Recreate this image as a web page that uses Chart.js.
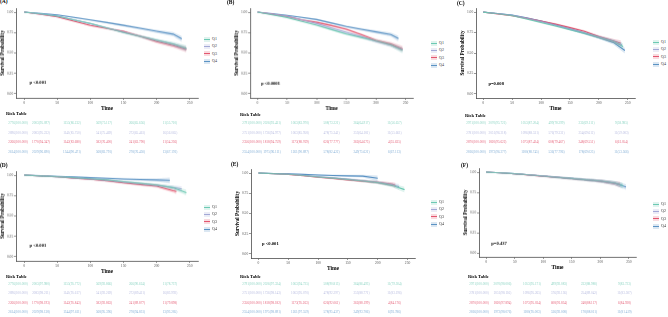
<!DOCTYPE html>
<html><head><meta charset="utf-8">
<script src="https://cdn.jsdelivr.net/npm/chart.js@4.4.1/dist/chart.umd.min.js"></script>
<style>
html,body{margin:0;padding:0;background:#fff;width:668px;height:317px;overflow:hidden;position:relative;font-family:"Liberation Serif",serif;}
canvas{position:absolute;}
.plab{position:absolute;font-weight:bold;font-size:5.5px;line-height:1;color:#000;white-space:nowrap;}
.rtt{position:absolute;font-weight:bold;font-size:4.6px;line-height:1;color:#000;white-space:nowrap;}
.rt{position:absolute;white-space:nowrap;font-size:3.3px;line-height:1;transform:translate(-50%,-50%);}
.lg{position:absolute;font-size:4px;line-height:1;color:#333;white-space:nowrap;}
.key{position:absolute;width:6px;height:5px;}
.key i{position:absolute;left:0;right:0;top:2px;height:1px;}
</style></head><body>
<script>
// ---------- DATA ----------
const groups = ["Q1","Q2","Q3","Q4"];
const grid = [0,25,50,75,100,125,150,175,200,225];
const xTicks = [0,50,100,150,200,250];
const yTicks = [0,0.25,0.5,0.75,1];
const ciHalf = [0,0.004,0.006,0.008,0.010,0.012,0.014,0.017,0.020,0.025];
const ciEnd = 0.035;

const A_Q1 = [1,0.978,0.951,0.905,0.862,0.806,0.751,0.703,0.657,0.610];
const A_Q2 = [1,0.977,0.952,0.905,0.858,0.806,0.755,0.705,0.654,0.605];
const A_Q3 = [1,0.972,0.943,0.890,0.837,0.800,0.764,0.705,0.638,0.590];
const A_Q4 = [1,0.983,0.967,0.936,0.905,0.872,0.838,0.802,0.765,0.730];
const A_end = [[245,0.557],[245,0.550],[245,0.542],[238,0.672]];

const B_Q1 = [1,0.967,0.934,0.887,0.840,0.786,0.732,0.690,0.649,0.600];
const B_Q2 = [1,0.975,0.950,0.905,0.860,0.807,0.753,0.700,0.642,0.595];
const B_Q3 = [1,0.974,0.948,0.905,0.875,0.835,0.790,0.725,0.655,0.610];
const B_Q4 = [1,0.980,0.961,0.935,0.909,0.866,0.824,0.790,0.758,0.725];
const B_end = [[245,0.530],[245,0.540],[245,0.550],[238,0.675]];

const C_Q1 = [1,0.980,0.957,0.915,0.872,0.830,0.785,0.740,0.690,0.640];
const C_Q2 = [1,0.982,0.962,0.925,0.885,0.840,0.795,0.745,0.695,0.645];
const C_Q3 = [1,0.978,0.955,0.925,0.890,0.855,0.810,0.765,0.700,0.650];
const C_Q4 = [1,0.982,0.965,0.930,0.890,0.845,0.795,0.745,0.690,0.630];
const C_end = [[242,0.580],[240,0.600],[238,0.620],[245,0.530]];

const D_Q1 = [1,0.990,0.980,0.968,0.955,0.940,0.920,0.900,0.880,0.845];
const D_Q2 = [1,0.990,0.978,0.965,0.952,0.935,0.915,0.895,0.875,0.850];
const D_Q3 = [1,0.990,0.978,0.962,0.948,0.930,0.905,0.885,0.865,0.810];
const D_Q4 = [1,0.993,0.985,0.977,0.968,0.960,0.952,0.945,0.940];
const D_end = [[245,0.785],[238,0.830],[230,0.800],[220,0.935]];

const E_Q1 = [1,0.993,0.985,0.970,0.952,0.937,0.920,0.902,0.882,0.845];
const E_Q2 = [1,0.993,0.986,0.972,0.955,0.940,0.925,0.905,0.885,0.855];
const E_Q3 = [1,0.992,0.983,0.967,0.948,0.932,0.915,0.900,0.885,0.860];
const E_Q4 = [1,0.995,0.990,0.983,0.975,0.970,0.965,0.962];
const E_end = [[245,0.795],[236,0.830],[230,0.845],[200,0.935]];

const F_Q1 = [1,0.990,0.980,0.965,0.950,0.935,0.920,0.905,0.890,0.865];
const F_Q2 = [1,0.990,0.980,0.966,0.951,0.936,0.921,0.906,0.890,0.862];
const F_Q3 = [1,0.990,0.979,0.964,0.949,0.934,0.918,0.903,0.888,0.860];
const F_Q4 = [1,0.990,0.980,0.965,0.950,0.935,0.920,0.904,0.888,0.863];
const F_end = [[240,0.830],[238,0.835],[235,0.845],[245,0.815]];

const pvals = ["p <0.001","p <0.0001","p=0.008","p <0.001","p <0.001","p=0.437"];

const AD_n = [
 ["2776","2003","1155","569","266","11"],
 ["2896","2083","1141","541","272","16"],
 ["2266","1770","1142","582","241","11"],
 ["2614","2029","1344","568","278","13"]];
const BE_n = [
 ["2791","2026","1063","508","264","11"],
 ["2751","1736","1063","478","253","11"],
 ["2356","1818","1173","626","262","4"],
 ["2554","1975","1261","578","249","6"]];
const CF_n = [
 ["2971","2070","1053","499","232","9"],
 ["2781","2051","1096","576","254","11"],
 ["2870","1820","1073","608","248","6"],
 ["2816","1972","1180","536","178","11"]];
const A_pct = [
 ["100.000","95.097","86.232","75.117","65.656","55.710"],
 ["100.000","95.232","85.750","75.469","65.461","56.065"],
 ["100.000","94.347","83.680","76.400","63.790","54.236"],
 ["100.000","96.690","90.471","83.791","76.450","67.191"]];
const B_pct = [
 ["100.000","93.431","83.970","73.221","64.917","56.657"],
 ["100.000","94.977","85.958","75.341","64.181","55.661"],
 ["100.000","94.759","88.769","77.777","64.675","55.635"],
 ["100.000","96.111","90.897","82.422","75.621","67.113"]];
const C_pct = [
 ["100.000","95.721","87.204","78.299","69.111","58.985"],
 ["100.000","96.218","88.531","79.331","69.612","59.083"],
 ["100.000","95.622","87.424","79.467","69.551","61.054"],
 ["100.000","96.277","88.745","77.796","69.025","53.566"]];
const D_pct = [
 ["100.000","97.980","95.772","92.866","90.624","78.737"],
 ["100.000","98.211","95.617","92.269","89.411","83.992"],
 ["100.000","98.193","95.843","92.863","89.877","79.898"],
 ["100.000","98.138","97.611","95.396","94.831","93.285"]];
const E_pct = [
 ["100.000","97.324","94.725","90.813","86.493","79.304"],
 ["100.000","98.143","95.070","92.297","88.771","83.196"],
 ["100.000","98.182","95.263","92.061","88.199","84.176"],
 ["100.000","98.891","97.559","95.437","93.786","93.786"]];
const F_pct = [
 ["100.000","98.006","95.171","92.083","88.980","83.723"],
 ["100.000","98.116","95.265","92.136","89.042","83.587"],
 ["100.000","97.894","95.034","91.834","88.117","84.928"],
 ["100.000","98.076","95.003","92.008","88.011","81.419"]];

// ---------- STYLE / LAYOUT ----------
const colors = ["#6cc9b3","#a3a8d6","#e3566f","#5b93c4"];
const txtColors = ["#8fd5c4","#b9bde0","#e6667d","#86b0d6"];
const FONT = "'Liberation Serif', serif";

function rgba(hex,a){const n=parseInt(hex.slice(1),16);return `rgba(${n>>16&255},${n>>8&255},${n&255},${a})`;}

function buildPoints(vals,end,withCi,sign){
  const pts = vals.map((v,i)=>({x:grid[i], y: withCi? v+sign*ciHalf[i] : v}));
  pts.push({x:end[0], y: withCi? end[1]+sign*ciEnd : end[1]});
  return pts;
}

const pvalPlugin = {
  id:'pval',
  afterDatasetsDraw(chart, args, opts){
    const {ctx, scales} = chart;
    ctx.save();
    ctx.font = `bold ${opts.size}px ${FONT}`;
    ctx.fillStyle = '#000';
    ctx.textBaseline = 'middle';
    ctx.fillText(opts.text, scales.x.getPixelForValue(opts.x), scales.y.getPixelForValue(opts.y));
    ctx.restore();
  }
};

function makePanel(p){
  const yW = 16, xH = 14, padT = 3, padR = 2;
  const W = (p.R - p.L) + yW + padR, H = (p.B - p.T) + padT + xH;
  const cv = document.createElement('canvas');
  cv.width = W; cv.height = H;
  cv.style.left = (p.L - yW) + 'px'; cv.style.top = (p.T - padT) + 'px';
  cv.style.width = W+'px'; cv.style.height = H+'px';
  document.body.appendChild(cv);
  const ds = [];
  p.series.forEach((vals,i)=>{
    const c = colors[i];
    ds.push({data: buildPoints(vals,p.ends[i],true,-1), borderWidth:0, pointRadius:0, fill:false, label:'_lo'});
    ds.push({data: buildPoints(vals,p.ends[i],true,1), borderWidth:0, pointRadius:0, fill:'-1', backgroundColor: rgba(c,0.22), label:'_hi'});
  });
  p.series.forEach((vals,i)=>{
    ds.push({data: buildPoints(vals,p.ends[i],false,0), borderColor: colors[i], borderWidth:1.1, pointRadius:0, fill:false, label:groups[i]});
  });
  const axisCommon = {
    border:{display:true,color:'#333',width:0.7},
    grid:{display:true,drawOnChartArea:false,drawTicks:true,tickLength:2,color:'#333',lineWidth:0.5},
  };
  new Chart(cv,{
    type:'line',
    data:{datasets:ds},
    options:{
      responsive:false, animation:false, devicePixelRatio:1,
      layout:{padding:{top:padT,right:padR,left:0,bottom:0}},
      plugins:{legend:{display:false}, tooltip:{enabled:false},
        pval:{text:p.pval, x:p.px, y:p.py, size:4.6}},
      scales:{
        x:{type:'linear', min:-12.5, max:262.5, ...axisCommon,
          afterBuildTicks:s=>{s.ticks = xTicks.map(v=>({value:v}));},
          afterFit:s=>{s.height = xH;},
          ticks:{font:{family:FONT,size:3.6},color:'#4d4d4d',padding:0.5,maxRotation:0,autoSkip:false,callback:v=>String(v)},
          title:{display:true,text:'Time',font:{family:FONT,size:5.5,weight:'bold'},color:'#000',padding:{top:0.5,bottom:0}}},
        y:{type:'linear', min:-0.05, max:1.05, ...axisCommon,
          afterBuildTicks:s=>{s.ticks = yTicks.map(v=>({value:v}));},
          afterFit:s=>{s.width = yW;},
          ticks:{font:{family:FONT,size:3.6},color:'#4d4d4d',padding:0.8,autoSkip:false,callback:v=>Number(v).toFixed(2)},
          title:{display:true,text:'Survival Probability',font:{family:FONT,size:5.2,weight:'bold'},color:'#000',padding:{top:0,bottom:0}}}
      }
    },
    plugins:[pvalPlugin]
  });
  const lab = document.createElement('div'); lab.className='plab';
  lab.textContent = p.label; lab.style.left = p.labX+'px'; lab.style.top = p.labY+'px';
  document.body.appendChild(lab);
  groups.forEach((g,i)=>{
    const y = p.legY + i*7.4;
    const k = document.createElement('div'); k.className='key';
    k.style.left = p.legX+'px'; k.style.top = (y-2.5)+'px'; k.style.background = rgba(colors[i],0.22);
    const ln = document.createElement('i'); ln.style.background = colors[i]; k.appendChild(ln);
    document.body.appendChild(k);
    const t = document.createElement('div'); t.className='lg'; t.textContent=g;
    t.style.left = (p.legX+8)+'px'; t.style.top = (y-2)+'px';
    document.body.appendChild(t);
  });
  const rt = document.createElement('div'); rt.className='rtt'; rt.textContent='Risk Table';
  rt.style.left = p.rtX+'px'; rt.style.top = (p.rtY-2.3)+'px'; document.body.appendChild(rt);
  p.n.forEach((row,i)=>{
    row.forEach((n,j)=>{
      const c = document.createElement('div'); c.className='rt';
      c.textContent = `${n}(${p.pct[i][j]})`;
      c.style.left = p.colX[j]+'px'; c.style.top = p.rowY[i]+'px'; c.style.color = txtColors[i];
      document.body.appendChild(c);
    });
  });
}

const colAD = [18,41,72,104,137,170];
const colBE = [252,272,300,331.5,361.5,394.5];
const colC = [476,497.5,530,556.5,586.5,621.5];
const colF = [479,502.5,532,559,589,624.5];
const rowTop = [124,133.5,143,152.5];
const rowBot = [284.5,294,303.5,313];

makePanel({label:'(A)',labX:0,labY:-1,L:16,R:198,T:8,B:97.5,series:[A_Q1,A_Q2,A_Q3,A_Q4],ends:A_end,
  pval:pvals[0],px:8,py:0.14,legX:204,legY:39,rtX:6,rtY:114,n:AD_n,pct:A_pct,colX:colAD,rowY:rowTop});
makePanel({label:'(B)',labX:227,labY:0,L:250,R:412.5,T:8,B:97.5,series:[B_Q1,B_Q2,B_Q3,B_Q4],ends:B_end,
  pval:pvals[1],px:6,py:0.13,legX:431,legY:43,rtX:240,rtY:115,n:BE_n,pct:B_pct,colX:colBE,rowY:rowTop});
makePanel({label:'(C)',labX:457,labY:1,L:476,R:635,T:8,B:98,series:[C_Q1,C_Q2,C_Q3,C_Q4],ends:C_end,
  pval:pvals[2],px:9,py:0.12,legX:653,legY:42,rtX:465,rtY:116,n:CF_n,pct:C_pct,colX:colC,rowY:rowTop});
makePanel({label:'(D)',labX:0,labY:163,L:16,R:198,T:171,B:260.5,series:[D_Q1,D_Q2,D_Q3,D_Q4],ends:D_end,
  pval:pvals[3],px:8,py:0.14,legX:204,legY:207,rtX:6,rtY:277,n:AD_n,pct:D_pct,colX:colAD,rowY:rowBot});
makePanel({label:'(E)',labX:231,labY:162,L:250.5,R:415,T:169,B:258,series:[E_Q1,E_Q2,E_Q3,E_Q4],ends:E_end,
  pval:pvals[4],px:6,py:0.13,legX:431,legY:202,rtX:240,rtY:277,n:BE_n,pct:E_pct,colX:colBE,rowY:rowBot});
makePanel({label:'(F)',labX:461,labY:163,L:479,R:636,T:168,B:256.5,series:[F_Q1,F_Q2,F_Q3,F_Q4],ends:F_end,
  pval:pvals[5],px:9,py:0.12,legX:653,legY:204,rtX:468,rtY:277,n:CF_n,pct:F_pct,colX:colF,rowY:rowBot});
</script>
</body></html>
